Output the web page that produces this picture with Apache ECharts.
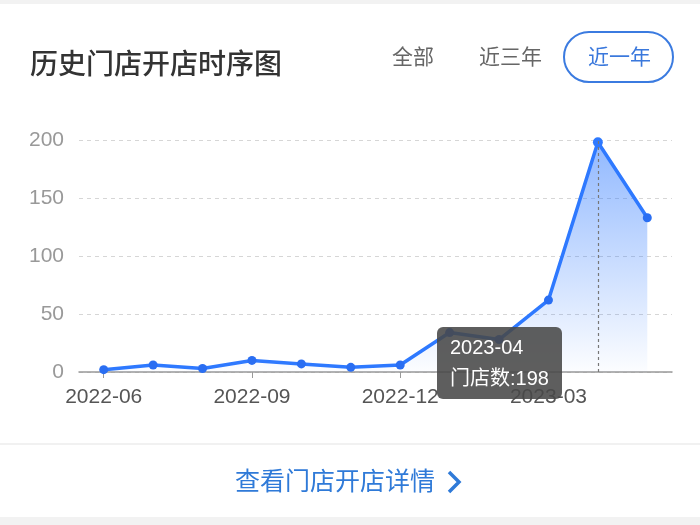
<!DOCTYPE html>
<html>
<head>
<meta charset="utf-8">
<script src="https://cdn.jsdelivr.net/npm/echarts@6/dist/echarts.min.js"></script>
<style>
html,body{margin:0;padding:0;background:#fff;}
#c{width:700px;height:525px;}
</style>
</head>
<body>
<div id="c"></div>
<script>
const categories = ['2022-06','2022-07','2022-08','2022-09','2022-10','2022-11','2022-12','2023-01','2023-02','2023-03','2023-04','2023-05'];
const storeCounts = [2, 6, 3, 10, 7, 4, 6, 34, 28, 62, 198, 133];
const yTicks = [0, 50, 100, 150, 200];
const seriesName = '门店数';
const titleText = '历史门店开店时序图';
const rangeButtons = ['全部', '近三年', '近一年'];
const footerText = '查看门店开店详情';

const FONT = '"Noto Sans CJK SC", "Noto Sans", sans-serif';
const NUMFONT = '"Liberation Sans", Arial, sans-serif';
const chart = echarts.init(document.getElementById('c'), null, {renderer: 'canvas'});
const option = {
  animation: false,
  backgroundColor: '#fff',
  title: {
    text: titleText, left: 25, top: 44,
    textStyle: {fontFamily: FONT, fontSize: 28, fontWeight: 500, color: '#333'}
  },
  graphic: [
    {type: 'rect', shape: {x: 0, y: 0, width: 700, height: 4}, style: {fill: '#f2f2f2'}, silent: true},
    {type: 'rect', shape: {x: 0, y: 517, width: 700, height: 8}, style: {fill: '#f2f2f2'}, silent: true},
    {type: 'line', shape: {x1: 0, y1: 444, x2: 700, y2: 444}, style: {stroke: '#ececec', lineWidth: 1.5}, silent: true},
    {type: 'text', left: 392, top: 46, style: {text: rangeButtons[0], font: '400 21px ' + FONT, fill: '#666'}},
    {type: 'text', left: 479, top: 46, style: {text: rangeButtons[1], font: '400 21px ' + FONT, fill: '#666'}},
    {type: 'rect', shape: {x: 564, y: 32, width: 109, height: 50, r: 25}, style: {fill: '#fff', stroke: '#3b7be0', lineWidth: 2}},
    {type: 'text', left: 588, top: 46, z: 10, style: {text: rangeButtons[2], font: '400 21px ' + FONT, fill: '#3a78dc'}},
    {type: 'text', left: 235, top: 468, style: {text: footerText, font: '400 25px ' + FONT, fill: '#2f7ad8'}},
    {type: 'polyline', shape: {points: [[449, 472], [459, 482], [449, 492]]}, style: {stroke: '#2f7ad8', lineWidth: 3.5, fill: null}}
  ],
  grid: {left: 79, right: 28, top: 140, bottom: 153, containLabel: false},
  tooltip: {
    trigger: 'axis',
    triggerOn: 'none',
    alwaysShowContent: true,
    transitionDuration: 0,
    position: function () { return [437, 327]; },
    backgroundColor: 'rgba(72,72,72,0.88)',
    borderWidth: 0,
    padding: [5, 13],
    textStyle: {color: '#fff', fontSize: 20, fontFamily: NUMFONT},
    extraCssText: 'border-radius:6px;line-height:31px;box-shadow:none;width:99px;font-family:"Liberation Sans","Noto Sans CJK SC",sans-serif;',
    axisPointer: {type: 'line', lineStyle: {color: '#777', type: [3, 3], width: 1.2}},
    formatter: function (params) {
      const p = params[0];
      return p.name + '<br/>' + seriesName + ':' + p.value;
    }
  },
  xAxis: {
    type: 'category',
    data: categories,
    boundaryGap: true,
    axisLine: {lineStyle: {color: '#999', width: 1.5}},
    axisTick: {show: true, alignWithLabel: true, interval: 2, length: 6, lineStyle: {color: '#999'}},
    axisLabel: {interval: 2, margin: 15, fontSize: 21, color: '#555', fontFamily: NUMFONT}
  },
  yAxis: {
    type: 'value',
    min: yTicks[0], max: yTicks[yTicks.length - 1], interval: 50,
    axisLine: {show: false},
    axisTick: {show: false},
    axisLabel: {margin: 15, fontSize: 21, color: '#999', fontFamily: NUMFONT},
    splitLine: {lineStyle: {color: '#d6d6d6', type: [4, 4], width: 1}}
  },
  series: [{
    name: seriesName,
    type: 'line',
    data: storeCounts,
    symbol: 'circle',
    symbolSize: 9,
    showSymbol: true,
    itemStyle: {color: '#2a6ef2'},
    lineStyle: {color: '#2a6ef2', width: 3.5},
    areaStyle: {
      color: new echarts.graphic.LinearGradient(0, 0, 0, 1, [
        {offset: 0, color: 'rgba(42,110,242,0.75)'},
        {offset: 1, color: 'rgba(42,110,242,0.02)'}
      ])
    }
  }]
};
chart.setOption(option);
chart.dispatchAction({type: 'showTip', seriesIndex: 0, dataIndex: 10});
</script>
</body>
</html>
